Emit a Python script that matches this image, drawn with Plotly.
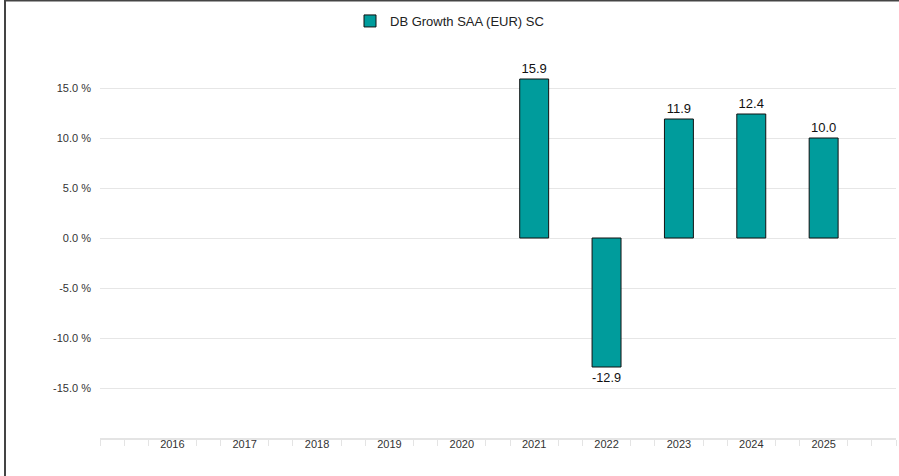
import plotly.graph_objects as go

years = [2016, 2017, 2018, 2019, 2020, 2021, 2022, 2023, 2024, 2025]
returns = [None, None, None, None, None, 15.9, -12.9, 11.9, 12.4, 10.0]
series_name = "DB Growth SAA (EUR) SC"
y_ticks = [-15, -10, -5, 0, 5, 10, 15, 20]

W, H = 899, 476
L, R, T, B = 100, 3, 38, 38
pw = W - L - R
ph = H - T - B

labels = [f"{v:.1f}" if v is not None else "" for v in returns]

fig = go.Figure()
fig.add_trace(go.Bar(
    x=years, y=returns, name=series_name, width=0.4,
    marker=dict(color="#009C9C", line=dict(color="#111111", width=1)),
    text=labels, textposition="outside", cliponaxis=False,
    textfont=dict(size=13, color="#111111", family="Liberation Sans, Arial, sans-serif"),
    showlegend=True,
))

minor_vals = [2015, 2026] + [y + d for y in range(2015, 2027) for d in (-1/3, 1/3)]
minor_vals = [v for v in minor_vals if 2015 <= v <= 2026]

ytext = [f"{v:.1f} %" for v in y_ticks]
ytext[-1] = ""

def px_x(p):
    return (p - L) / pw

def px_y(p):
    return 1 - (p - T) / ph

fig.update_layout(
    width=W, height=H,
    margin=dict(l=L, r=R, t=T, b=B),
    paper_bgcolor="white", plot_bgcolor="white",
    font=dict(family="Liberation Sans, Arial, sans-serif", size=11, color="#333333"),
    showlegend=True,
    legend=dict(orientation="h", x=px_x(350), xanchor="left", y=px_y(6), yanchor="top",
                font=dict(size=13, color="#222222"), bgcolor="rgba(0,0,0,0)"),
    bargap=0.6,
    xaxis=dict(
        range=[2015, 2026], tickmode="array", tickvals=years, ticktext=[str(y) for y in years],
        ticks="", showgrid=False, zeroline=False,
        showline=True, linecolor="#e4e4e4", linewidth=2,
        tickfont=dict(size=11, color="#333333"), ticklabelstandoff=-5,
        minor=dict(tickmode="array", tickvals=minor_vals, ticks="outside", ticklen=6,
                   tickcolor="#e4e4e4", tickwidth=1, showgrid=False),
    ),
    yaxis=dict(
        range=[-20, 20], tickmode="array", tickvals=y_ticks, ticktext=ytext,
        showgrid=True, gridcolor="#e6e6e6", gridwidth=1, zeroline=False,
        showline=False, ticks="", ticklabelstandoff=8,
        tickfont=dict(size=11, color="#333333"),
    ),
    shapes=[
        dict(type="line", xref="paper", yref="paper", x0=px_x(5), x1=px_x(5), y0=px_y(0), y1=px_y(H),
             line=dict(color="#444444", width=2)),
        dict(type="line", xref="paper", yref="paper", x0=px_x(4), x1=px_x(W), y0=px_y(0.5), y1=px_y(0.5),
             line=dict(color="#444444", width=2)),
    ],
)

fig.write_html("out.html", config={"displayModeBar": False},
               post_script="document.body.style.margin='0';document.body.style.padding='0';")
